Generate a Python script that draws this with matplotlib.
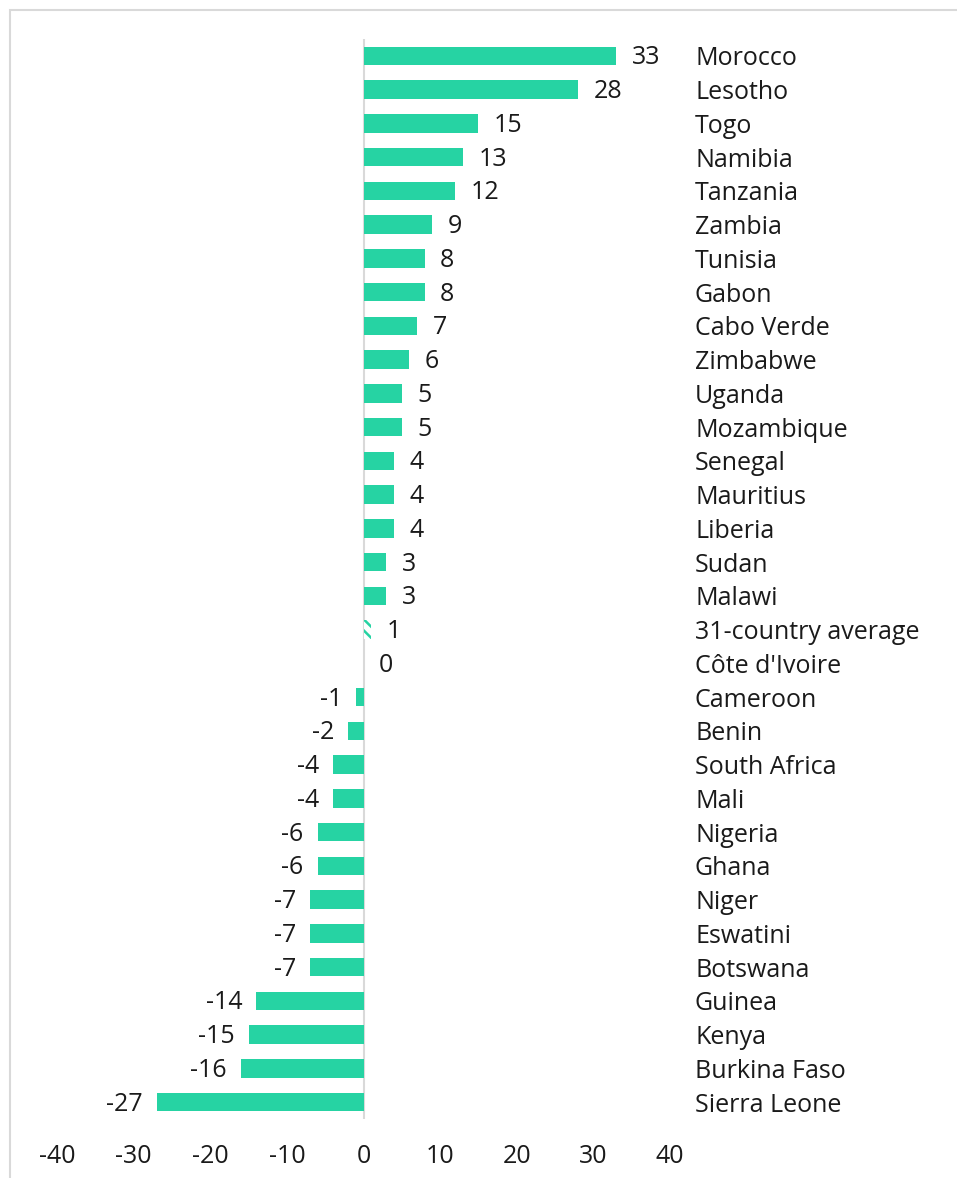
import matplotlib.pyplot as plt
from matplotlib.patches import Rectangle

countries = ['Morocco', 'Lesotho', 'Togo', 'Namibia', 'Tanzania', 'Zambia', 'Tunisia',
             'Gabon', 'Cabo Verde', 'Zimbabwe', 'Uganda', 'Mozambique', 'Senegal',
             'Mauritius', 'Liberia', 'Sudan', 'Malawi', '31-country average',
             "Côte d'Ivoire", 'Cameroon', 'Benin', 'South Africa', 'Mali', 'Nigeria',
             'Ghana', 'Niger', 'Eswatini', 'Botswana', 'Guinea', 'Kenya',
             'Burkina Faso', 'Sierra Leone']
values = [33, 28, 15, 13, 12, 9, 8, 8, 7, 6, 5, 5, 4, 4, 4, 3, 3, 1,
          0, -1, -2, -4, -4, -6, -6, -7, -7, -7, -14, -15, -16, -27]
x_ticks = [-40, -30, -20, -10, 0, 10, 20, 30, 40]

green = '#26D3A3'
plt.rcParams['font.family'] = ['Open Sans', 'DejaVu Sans']
plt.rcParams['hatch.linewidth'] = 1.8
plt.rcParams['hatch.color'] = green

fig = plt.figure(figsize=(9.57, 11.78), dpi=100)
ax = fig.add_axes([57 / 957, 1 - 1119 / 1178, (670 - 57) / 957, (1119 - 39) / 1178])

pos = list(range(len(countries)))
for i, (c, v) in enumerate(zip(countries, values)):
    if c == '31-country average':
        # average is drawn hatched
        ax.barh(i, v, height=0.55, facecolor='white', edgecolor=green,
                hatch='\\\\\\', linewidth=0)
    else:
        ax.barh(i, v, height=0.55, color=green, linewidth=0)
    off = -10 if v < 0 else 11
    ha = 'right' if v < 0 else 'left'
    ax.annotate(str(v), (v, i), xytext=(off, -1.5), textcoords='offset points',
                ha=ha, va='center', fontsize=18, color='#1a1a1a')

ax.set_xlim(-40, 40)
ax.set_ylim(len(countries) - 0.5, -0.5)
ax.axvline(0, color='#D9D9D9', linewidth=1.5, zorder=0)

ax.set_xticks(x_ticks)
ax.set_xticklabels([str(t) for t in x_ticks], fontsize=18, color='#1a1a1a')
ax.set_yticks(pos)
ax.set_yticklabels(countries, fontsize=18, color='#1a1a1a', ha='left')
ax.yaxis.tick_right()
ax.tick_params(axis='y', length=0, pad=18)
ax.tick_params(axis='x', length=0, pad=18)
for s in ax.spines.values():
    s.set_visible(False)

fig.patches.append(Rectangle((10 / 957, -0.01), 1.0, 1 - 10 / 1178 + 0.01,
                             transform=fig.transFigure, fill=False,
                             edgecolor='#D9D9D9', linewidth=1.5))

fig.savefig('out.png', dpi=100)
